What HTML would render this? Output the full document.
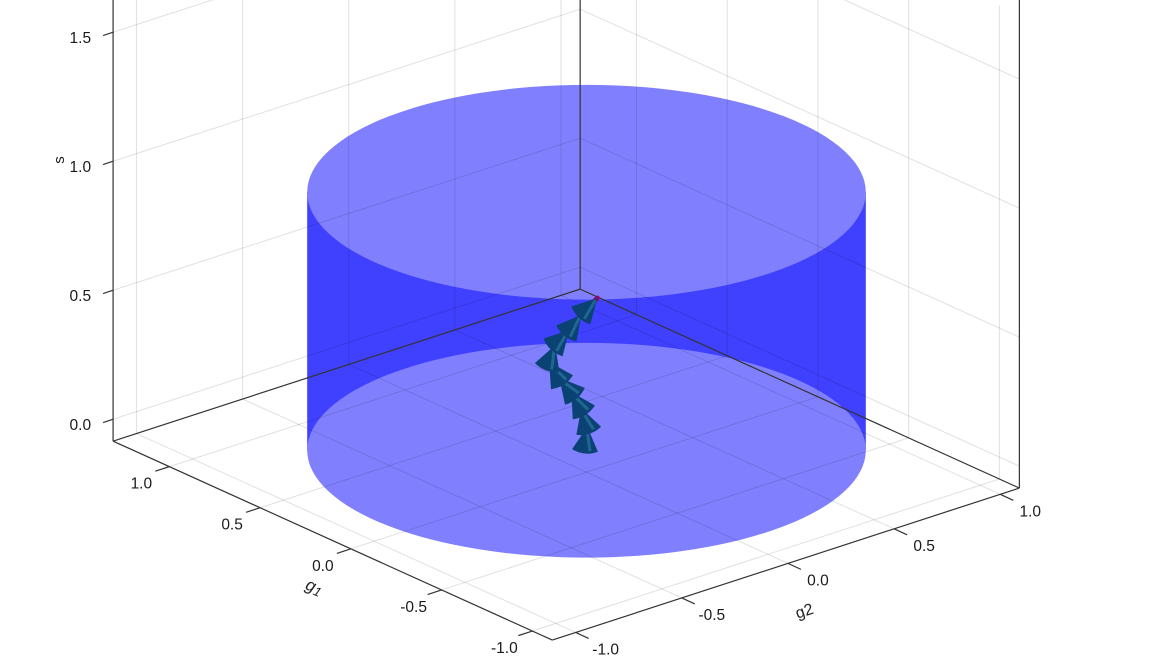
<!DOCTYPE html>
<html><head><meta charset="utf-8"><style>
html,body{margin:0;padding:0;background:#fff;}
svg{display:block;font-family:"Liberation Sans",sans-serif;}
</style></head><body>
<svg id="chart" width="1169" height="672" viewBox="0 0 1169 672"></svg>
<script>
// ---- data ----
const g1Ticks = [-1.0, -0.5, 0.0, 0.5, 1.0];
const g2Ticks = [-1.0, -0.5, 0.0, 0.5, 1.0];
const sTicks = [0.0, 0.5, 1.0, 1.5];
const g1TickLabels = ["-1.0","-0.5","0.0","0.5","1.0"];
const g2TickLabels = ["-1.0","-0.5","0.0","0.5","1.0"];
const sTickLabels = ["0.0","0.5","1.0","1.5"];
const g1Range = [-1.11, 1.31];
const g2Range = [-1.11, 1.09];
const sRange = [-0.085, 1.75];
const cylRadius = [1.0];
const cylHeight = [0.0, 1.0];
// path of arrows (g1, g2, s)
const pathG1 = [0,0,0,0,0,0,0,0,0,0];
const pathG2 = [-0.006,0.004,-0.025,-0.072,-0.128,-0.176,-0.147,-0.081,-0.024,0.051];
const pathS = [0.010,0.090,0.170,0.245,0.314,0.389,0.447,0.488,0.531,0.576];

// ---- projection ----
const O = [586.5, 450.2], E1 = [-181.5, -82.2], E2 = [212.3, -69.1], E3 = [0, -258];
function P(a,b,c){return [O[0]+a*E1[0]+b*E2[0]+c*E3[0], O[1]+a*E1[1]+b*E2[1]+c*E3[1]];}
const svg = document.getElementById('chart');
const NS = 'http://www.w3.org/2000/svg';
function mk(tag, attrs, parent){const e=document.createElementNS(NS,tag);for(const k in attrs)e.setAttribute(k,attrs[k]);(parent||svg).appendChild(e);return e;}
function line(p,q,stroke,w,parent){return mk('line',{x1:p[0],y1:p[1],x2:q[0],y2:q[1],stroke:stroke,'stroke-width':w},parent);}

// ---- cylinder ----
const cyl = mk('g',{});


const rx = Math.hypot(E1[0],E2[0])*cylRadius[0], ry = Math.hypot(E1[1],E2[1])*cylRadius[0];
const cb = P(0,0,cylHeight[0]), ct = P(0,0,cylHeight[1]);
const side = mk('rect',{x:cb[0]-rx,y:ct[1],width:2*rx,height:cb[1]-ct[1],fill:'#4040ff'},cyl);


const topE = mk('ellipse',{cx:ct[0],cy:ct[1],rx:rx,ry:ry,fill:'#8080ff'},cyl);


const botE = mk('ellipse',{cx:cb[0],cy:cb[1],rx:rx,ry:ry,fill:'#8080ff'},cyl);



// ---- grid ----
const grid = mk('g',{});


const gc='rgba(0,0,0,0.12)';
g1Ticks.forEach(v=>{ line(P(v,g2Range[0],sRange[0]),P(v,g2Range[1],sRange[0]),gc,1,grid); line(P(v,g2Range[1],sRange[0]),P(v,g2Range[1],sRange[1]),gc,1,grid);});
g2Ticks.forEach(v=>{ line(P(g1Range[0],v,sRange[0]),P(g1Range[1],v,sRange[0]),gc,1,grid); line(P(g1Range[1],v,sRange[0]),P(g1Range[1],v,sRange[1]),gc,1,grid);});
sTicks.forEach(v=>{ line(P(g1Range[1],g2Range[0],v),P(g1Range[1],g2Range[1],v),gc,1,grid); line(P(g1Range[1],g2Range[1],v),P(g1Range[0],g2Range[1],v),gc,1,grid);});

// ---- frame ----
const frame = mk('g',{});


const fc='#333';
const L=P(g1Range[1],g2Range[0],sRange[0]), F=P(g1Range[0],g2Range[0],sRange[0]), R=P(g1Range[0],g2Range[1],sRange[0]), B=P(g1Range[1],g2Range[1],sRange[0]);
line(B,L,fc,1.2,frame); line(B,R,fc,1.2,frame);
line(L,[L[0],0],fc,1.2,frame); line(B,[B[0],0],fc,1.2,frame); line(R,[R[0],0],fc,1.2,frame);
const g1Axis = line(L,F,fc,1.2,frame);


const g2Axis = line(F,R,fc,1.2,frame);



// ---- ticks & labels ----
const ticks = mk('g',{'font-size':15.5,fill:'#1a1a1a'});


sTicks.forEach((v,i)=>{const p=P(g1Range[1],g2Range[0],v);
  line(p,[p[0]-10,p[1]+3.3],fc,1.2,ticks);
  const t=mk('text',{x:p[0]-22,y:p[1]+11,'text-anchor':'end'},ticks); t.textContent=sTickLabels[i];
   });
g1Ticks.forEach((v,i)=>{const p=P(v,g2Range[0],sRange[0]);
  line(p,[p[0]-14,p[1]+4.6],fc,1.2,ticks);
  const t=mk('text',{x:p[0]-28,y:p[1]+22,'text-anchor':'middle'},ticks); t.textContent=g1TickLabels[i];
   });
g2Ticks.forEach((v,i)=>{const p=P(g1Range[0],v,sRange[0]);
  line(p,[p[0]+13,p[1]+6],fc,1.2,ticks);
  const t=mk('text',{x:p[0]+30,y:p[1]+22,'text-anchor':'middle'},ticks); t.textContent=g2TickLabels[i];
   });

const sT=mk('text',{x:64,y:160,'font-size':15,fill:'#222','text-anchor':'middle',transform:'rotate(-90 64 160)'});
sT.textContent='s';
 
const g1T=mk('text',{x:312,y:592,'font-size':17,fill:'#222','text-anchor':'middle','font-style':'italic',transform:'rotate(24 312 592)'});
g1T.innerHTML='g<tspan font-size="13" dy="2">1</tspan>';
 
const g2T=mk('text',{x:806,y:616,'font-size':16,fill:'#222','text-anchor':'middle',transform:'rotate(-18 806 616)'});
g2T.textContent='g2';
 

// ---- arrows ----
const arrows = mk('g',{});


const pts = pathS.map((s,i)=>P(pathG1[i],pathG2[i],s));
for(let i=0;i<pts.length-1;i++){
  const a=pts[i], b=pts[i+1];
  const sh=line(a,b,'#8a0a74',5,arrows); sh.setAttribute('stroke-linecap','round');
   
}
for(let i=0;i<pts.length-1;i++){
  const a=pts[i], b=pts[i+1];
  let dx=b[0]-a[0], dy=b[1]-a[1]; const d=Math.hypot(dx,dy)||1; dx/=d; dy/=d;
  const len=24, hw=13;
  const bc=[b[0]-dx*len,b[1]-dy*len], nx=-dy, ny=dx;
  const p1=[bc[0]+nx*hw,bc[1]+ny*hw], p2=[bc[0]-nx*hw,bc[1]-ny*hw];
  const cp=[bc[0]-dx*6,bc[1]-dy*6];
  const cone=mk('path',{d:`M${b[0]},${b[1]} L${p1[0]},${p1[1]} Q${cp[0]},${cp[1]} ${p2[0]},${p2[1]} Z`,fill:'#0b4274'},arrows);
   
  line([b[0]-dx*3,b[1]-dy*3],[bc[0]+nx*5,bc[1]+ny*5],'#1f6690',3,arrows);
}
</script>
</body></html>
